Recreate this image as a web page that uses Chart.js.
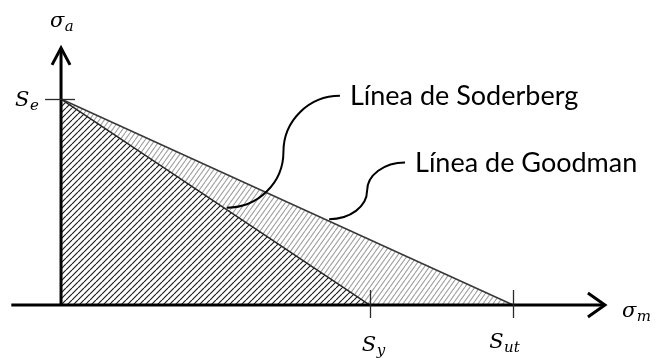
<!DOCTYPE html>
<html>
<head>
<meta charset="utf-8">
<script src="https://cdn.jsdelivr.net/npm/chart.js@4.4.0/dist/chart.umd.min.js"></script>
<style>
  html, body { margin: 0; padding: 0; background: #fff; }
  canvas { display: block; }
</style>
</head>
<body>
<canvas id="chart" width="656" height="358"></canvas>
<script>
// Fatigue strengths, same units on both axes
const Se = 50;
const Sy = 68.3;
const Sut = 100;

// Failure lines: mean stress (x) against alternating stress (y)
const soderbergX = [0, Sy];
const soderbergY = [Se, 0];
const goodmanX = [0, Sut];
const goodmanY = [Se, 0];
const lineNames = ['Línea de Soderberg', 'Línea de Goodman'];

// Marked values on the axes: [symbol, subscript]
const xTickValues = [Sy, Sut];
const xTickLabels = [['S', 'y'], ['S', 'ut']];
const yTickValues = [Se];
const yTickLabels = [['S', 'e']];
const axisTitles = [['σ', 'm'], ['σ', 'a']];

const canvas = document.getElementById('chart');
const ctx = canvas.getContext('2d');

// diagonal hatching tile; slope h/w, one stroke per tile
function makeHatch(w, h, bg, color, lw) {
    const tile = document.createElement('canvas');
    tile.width = w;
    tile.height = h;
    const g = tile.getContext('2d');
    if (bg) {
        g.fillStyle = bg;
        g.fillRect(0, 0, w, h);
    }
    g.strokeStyle = color;
    g.lineWidth = lw;
    g.beginPath();
    [-w, 0, w].forEach(function (dx) {
        g.moveTo(dx, h);
        g.lineTo(dx + w, 0);
    });
    g.stroke();
    return ctx.createPattern(tile, 'repeat');
}

const darkHatch = makeHatch(6, 6, '#ffffff', '#1e1e1e', 1.2);
const lightHatch = makeHatch(5, 7, null, '#a0a0a0', 1.1);

function toPoints(xs, ys) {
    return xs.map(function (x, i) { return { x: x, y: ys[i] }; });
}

// symbol in italic with a smaller subscript, from a left baseline point
function drawMath(c, parts, x, y) {
    c.fillStyle = '#000';
    c.textAlign = 'left';
    c.textBaseline = 'alphabetic';
    c.font = 'italic 21px "DejaVu Serif"';
    c.fillText(parts[0], x, y);
    const w = c.measureText(parts[0]).width;
    c.font = 'italic 15px "DejaVu Serif"';
    c.fillText(parts[1], x + w + 0.5, y + 4);
}

const diagramParts = {
    id: 'diagramParts',
    afterDatasetsDraw: function (chart, args, opts) {
        const c = chart.ctx;
        const xs = chart.scales.x;
        const ys = chart.scales.y;
        const x0 = xs.getPixelForValue(0);
        const y0 = ys.getPixelForValue(0);
        const xEnd = xs.getPixelForValue(opts.xAxisTo);
        const yEnd = ys.getPixelForValue(opts.yAxisTo);
        c.save();

        // axes with open arrow heads
        c.strokeStyle = '#000';
        c.lineWidth = 3;
        c.lineJoin = 'miter';
        c.beginPath();
        c.moveTo(xs.getPixelForValue(opts.xAxisFrom), y0);
        c.lineTo(xEnd, y0);
        c.moveTo(x0, y0 + 1.5);
        c.lineTo(x0, yEnd);
        c.stroke();
        c.beginPath();
        c.moveTo(xEnd - 17, y0 - 12);
        c.lineTo(xEnd, y0);
        c.lineTo(xEnd - 17, y0 + 12);
        c.stroke();
        c.beginPath();
        c.moveTo(x0 - 9, yEnd + 17);
        c.lineTo(x0, yEnd);
        c.lineTo(x0 + 9, yEnd + 17);
        c.stroke();

        // tick marks
        c.strokeStyle = '#2a2a2a';
        c.lineWidth = 1.3;
        xTickValues.forEach(function (v) {
            const px = Math.round(xs.getPixelForValue(v)) + 0.5;
            c.beginPath();
            c.moveTo(px, y0 - 15);
            c.lineTo(px, y0 + 13);
            c.stroke();
        });
        yTickValues.forEach(function (v) {
            const py = Math.round(ys.getPixelForValue(v)) + 0.5;
            c.beginPath();
            c.moveTo(x0 - 16, py);
            c.lineTo(x0 + 14, py);
            c.stroke();
        });

        // tick labels and axis titles
        drawMath(c, xTickLabels[0], xs.getPixelForValue(xTickValues[0]) - 8, y0 + 46);
        drawMath(c, xTickLabels[1], xs.getPixelForValue(xTickValues[1]) - 24, y0 + 43);
        drawMath(c, yTickLabels[0], x0 - 46, ys.getPixelForValue(yTickValues[0]) + 7);
        drawMath(c, axisTitles[0], xEnd + 17, y0 + 12);
        drawMath(c, axisTitles[1], x0 - 11, yEnd - 21);

        // curved leaders from each line to its name
        c.strokeStyle = '#000';
        c.lineWidth = 2;
        c.font = '27px Lato';
        c.fillStyle = '#000';
        c.textBaseline = 'alphabetic';
        opts.leaders.forEach(function (ld) {
            const xs0 = ld.dataset === 0 ? soderbergX : goodmanX;
            const ys0 = ld.dataset === 0 ? soderbergY : goodmanY;
            const t = (ld.atX - xs0[0]) / (xs0[1] - xs0[0]);
            const ax = xs.getPixelForValue(ld.atX);
            const ay = ys.getPixelForValue(ys0[0] + t * (ys0[1] - ys0[0])) - 2;
            const tx = xs.getPixelForValue(ld.textX);
            const ty = ys.getPixelForValue(ld.textY);
            const bx = tx - 10;
            const by = ty - 9;
            const mx = (ax + bx) / 2;
            const my = (ay + by) / 2;
            c.beginPath();
            c.ellipse(ax, my, mx - ax, ay - my, 0, Math.PI / 2, 0, true);
            c.ellipse(bx, my, bx - mx, my - by, 0, Math.PI, Math.PI * 1.5, false);
            c.stroke();
            c.fillText(lineNames[ld.dataset], tx, ty);
        });

        c.restore();
    }
};

new Chart(ctx, {
    type: 'line',
    data: {
        datasets: [{
            label: lineNames[0],
            data: toPoints(soderbergX, soderbergY),
            borderColor: '#262626',
            borderWidth: 1.5,
            backgroundColor: darkHatch,
            fill: 'origin',
            pointRadius: 0,
            tension: 0
        }, {
            label: lineNames[1],
            data: toPoints(goodmanX, goodmanY),
            borderColor: '#383838',
            borderWidth: 1.5,
            backgroundColor: lightHatch,
            fill: 'origin',
            pointRadius: 0,
            tension: 0
        }]
    },
    options: {
        responsive: false,
        animation: false,
        layout: { padding: 0 },
        scales: {
            x: { type: 'linear', display: false, min: -13.5, max: 131.6 },
            y: { type: 'linear', display: false, min: -12.86, max: 74.03 }
        },
        plugins: {
            legend: { display: false },
            tooltip: { enabled: false },
            diagramParts: {
                xAxisFrom: -11,
                xAxisTo: 120.3,
                yAxisTo: 62.4,
                leaders: [
                    { dataset: 0, atX: 36.7, textX: 63.9, textY: 48.6 },
                    { dataset: 1, atX: 59.3, textX: 78.3, textY: 32.4 }
                ]
            }
        }
    },
    plugins: [diagramParts]
});
</script>
</body>
</html>
